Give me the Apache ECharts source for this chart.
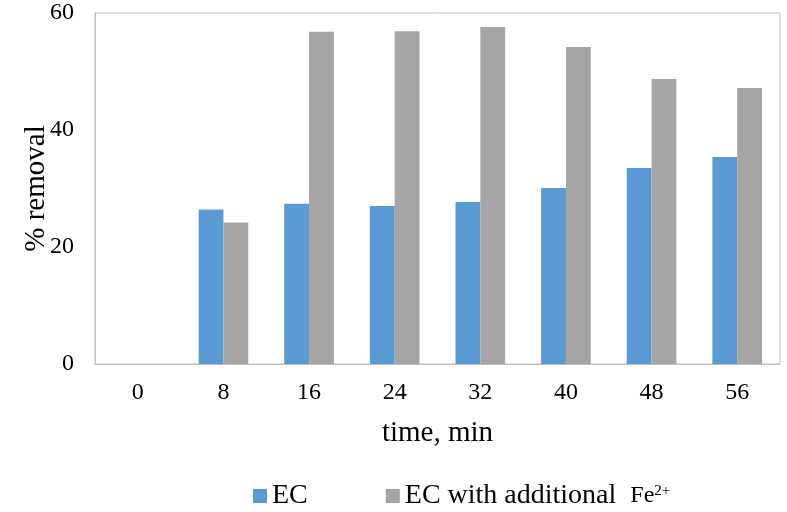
<!DOCTYPE html>
<html><head><meta charset="utf-8">
<script src="https://cdn.jsdelivr.net/npm/echarts@6/dist/echarts.min.js"></script>
<style>html,body{margin:0;padding:0;background:#fff}#c{width:787px;height:512px}</style>
</head><body><div id="c"></div>
<script>
const categories = ['0','8','16','24','32','40','48','56'];
const ecValues = [0, 26.4, 27.4, 27.0, 27.7, 30.1, 33.5, 35.4];
const ecFeValues = [0, 24.2, 56.8, 56.9, 57.6, 54.2, 48.7, 47.2];
const seriesNames = ['EC', 'EC with additional Fe2+'];
const yTicks = {min: 0, max: 60, interval: 20};

const font = 'Liberation Serif, Times New Roman, serif';
const chart = echarts.init(document.getElementById('c'), null, {renderer: 'canvas'});
chart.setOption({
  animation: false,
  textStyle: {fontFamily: font},
  grid: {left: 95, right: 7, top: 13, bottom: 148, show: true, borderColor: '#bfbfbf', borderWidth: 1, containLabel: false},
  legend: {
    left: 248, top: 477, itemWidth: 14, itemHeight: 14, itemGap: 78,
    icon: 'rect',
    textStyle: {fontFamily: font, fontSize: 28, color: '#000',
      rich: {fe: {fontFamily: font, fontSize: 24, color: '#000'}, sup: {fontFamily: font, fontSize: 15, color: '#000', padding: [0,0,10,0]}}},
    formatter: function (n) { return n === seriesNames[1] ? 'EC with additional  {fe|Fe}{sup|2+}' : n; },
    data: seriesNames
  },
  xAxis: {
    type: 'category', data: categories,
    name: 'time, min', nameLocation: 'middle', nameGap: 55,
    nameMoveOverlap: false,
    nameTextStyle: {fontFamily: font, fontSize: 29, color: '#000'},
    axisLine: {show: true, lineStyle: {color: '#bfbfbf'}},
    axisTick: {show: false},
    axisLabel: {fontFamily: font, fontSize: 24, color: '#000', margin: 17}
  },
  yAxis: {
    type: 'value', min: yTicks.min, max: yTicks.max, interval: yTicks.interval,
    name: '% removal', nameLocation: 'middle', nameGap: 44,
    nameMoveOverlap: false,
    nameTextStyle: {fontFamily: font, fontSize: 29, color: '#000'},
    axisLine: {show: true, lineStyle: {color: '#bfbfbf'}},
    axisTick: {show: false},
    splitLine: {show: false},
    axisLabel: {fontFamily: font, fontSize: 24, color: '#000', margin: 21}
  },
  series: [
    {name: seriesNames[0], type: 'bar', data: ecValues, barGap: '0%', barCategoryGap: '42%', itemStyle: {color: '#5b9bd5'}},
    {name: seriesNames[1], type: 'bar', data: ecFeValues, barGap: '0%', barCategoryGap: '42%', itemStyle: {color: '#a5a5a5'}}
  ]
});
</script></body></html>
